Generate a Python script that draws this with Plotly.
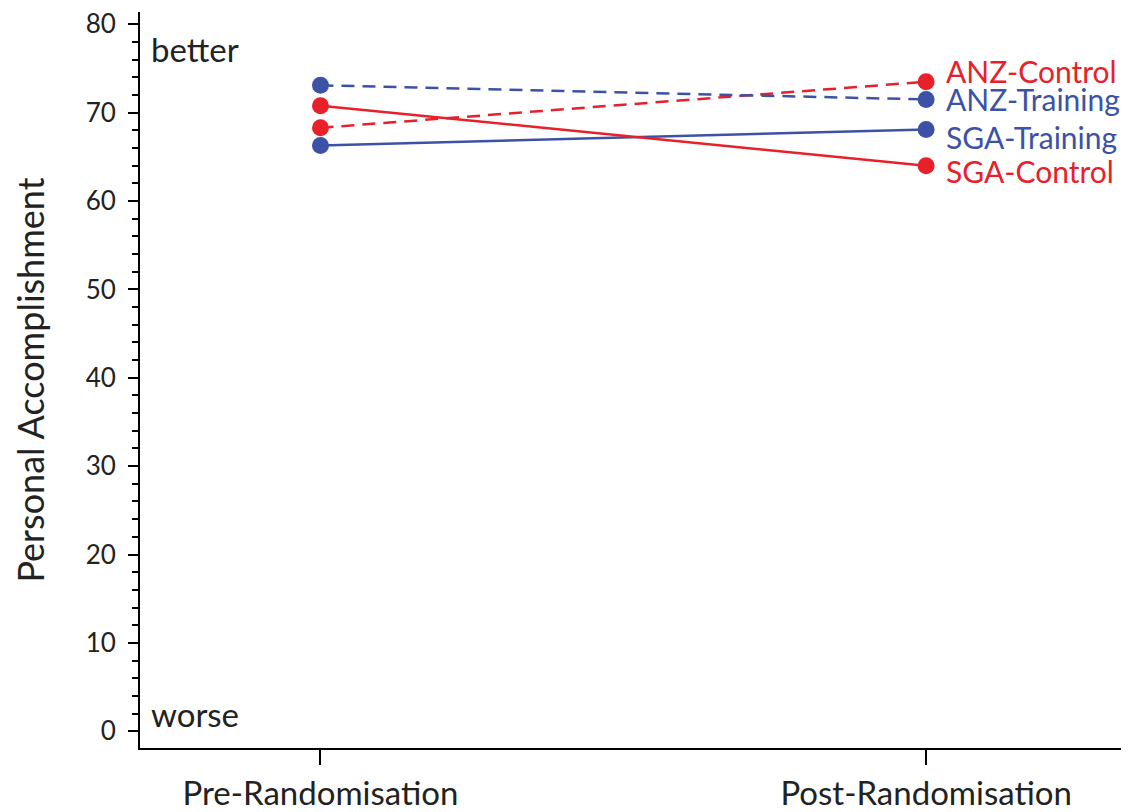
import plotly.graph_objects as go

timepoints = ["Pre-Randomisation", "Post-Randomisation"]
x_pos = [0, 1]

series_names = ["ANZ-Control", "ANZ-Training", "SGA-Training", "SGA-Control"]
anz_control = [68.3, 73.5]
anz_training = [73.1, 71.5]
sga_training = [66.3, 68.1]
sga_control = [70.8, 64.0]

y_ticks = [0, 10, 20, 30, 40, 50, 60, 70, 80]

RED = "#e8202a"
BLUE = "#3b52a6"
FONT = "Lato, Open Sans, sans-serif"
TXT = "#222"

# (name, values, colour, dashed, label pixel offset)
series = [
    (series_names[0], anz_control, RED, True, 11),
    (series_names[1], anz_training, BLUE, True, 0),
    (series_names[2], sga_training, BLUE, False, -7),
    (series_names[3], sga_control, RED, False, -5),
]

fig = go.Figure()
for name, vals, col, dashed, lab_shift in series:
    fig.add_trace(go.Scatter(
        x=x_pos, y=vals, mode="lines+markers", name=name,
        line=dict(color=col, width=2.5, dash="13px,8px" if dashed else "solid"),
        marker=dict(color=col, size=17),
        showlegend=False,
    ))
    fig.add_annotation(x=x_pos[1], y=vals[1], text=name, showarrow=False,
                       xanchor="left", yanchor="middle", xshift=18, yshift=lab_shift,
                       font=dict(family=FONT, size=30, color=col))

fig.add_annotation(xref="paper", yref="paper", x=0.009, y=0.95, text="better",
                   showarrow=False, xanchor="left", yanchor="middle",
                   font=dict(family=FONT, size=33, color=TXT))
fig.add_annotation(xref="paper", yref="paper", x=0.009, y=0.046, text="worse",
                   showarrow=False, xanchor="left", yanchor="middle",
                   font=dict(family=FONT, size=33, color=TXT))

fig.update_layout(
    width=1121, height=804,
    margin=dict(l=132, r=0, t=0, b=58),
    paper_bgcolor="white", plot_bgcolor="white",
    font=dict(family=FONT, color=TXT),
    xaxis=dict(
        range=[-0.298, 1.335], tickvals=x_pos, ticktext=timepoints,
        showgrid=False, zeroline=False, showline=True, linecolor="black", linewidth=2,
        ticks="outside", ticklen=15, tickwidth=2, tickcolor="black",
        tickfont=dict(family=FONT, size=33, color=TXT),
    ),
    yaxis=dict(
        range=[-1.9, 81.4], tickvals=y_ticks,
        showgrid=False, zeroline=False, showline=True, linecolor="black", linewidth=2,
        ticks="outside", ticklen=10, tickwidth=2, tickcolor="black",
        minor=dict(dtick=2, ticks="outside", ticklen=6, tickwidth=2, tickcolor="black"),
        tickfont=dict(family=FONT, size=26, color=TXT),
        ticklabeloverflow="allow", ticklabelstandoff=7,
        title=dict(text="Personal Accomplishment",
                   font=dict(family=FONT, size=36, color=TXT), standoff=34),
    ),
)

fig.write_html("out.html")
